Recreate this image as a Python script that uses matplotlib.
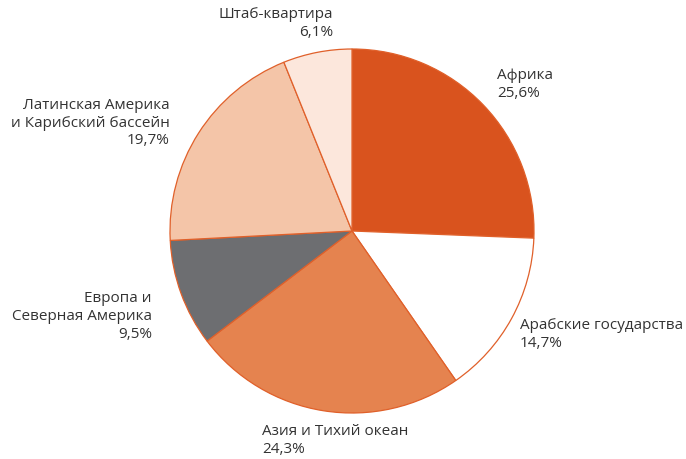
import matplotlib
matplotlib.use("Agg")
import matplotlib.pyplot as plt

plt.rcParams['font.family'] = ['Open Sans', 'DejaVu Sans']

regions = ['Африка', 'Арабские государства', 'Азия и Тихий океан',
           'Европа и\nСеверная Америка', 'Латинская Америка\nи Карибский бассейн',
           'Штаб-квартира']
shares = [25.6, 14.7, 24.3, 9.5, 19.7, 6.1]
colors = ['#d9531e', '#ffffff', '#e5834f', '#6d6e71', '#f4c5a8', '#fce7dc']

# label anchor points in pixels (x, y of the first line) and alignment
label_px = [(497, 75, 'left'), (520, 325, 'left'), (262, 431, 'left'),
            (152, 298, 'right'), (170, 105, 'right'), (333, 14, 'right')]

W, H = 686, 459
cx, cy, r = 352, 231, 182

fig = plt.figure(figsize=(W / 100, H / 100), dpi=100)
ax = fig.add_axes([(cx - r) / W, (H - cy - r) / H, 2 * r / W, 2 * r / H])
ax.pie(shares, colors=colors, startangle=90, counterclock=False, radius=1,
       wedgeprops=dict(edgecolor='#e0602a', linewidth=0.9))
ax.set_xlim(-1, 1)
ax.set_ylim(-1, 1)
ax.set_aspect('equal')
ax.axis('off')

for name, val, (px, py, ha) in zip(regions, shares, label_px):
    txt = name + '\n' + f'{val:.1f}'.replace('.', ',') + '%'
    x = (px - cx) / r
    y = (cy - py + 7) / r
    ax.text(x, y, txt, ha=ha, va='top', fontsize=11, color='#333333',
            linespacing=1.25, clip_on=False)

fig.savefig('out.png', dpi=100)
